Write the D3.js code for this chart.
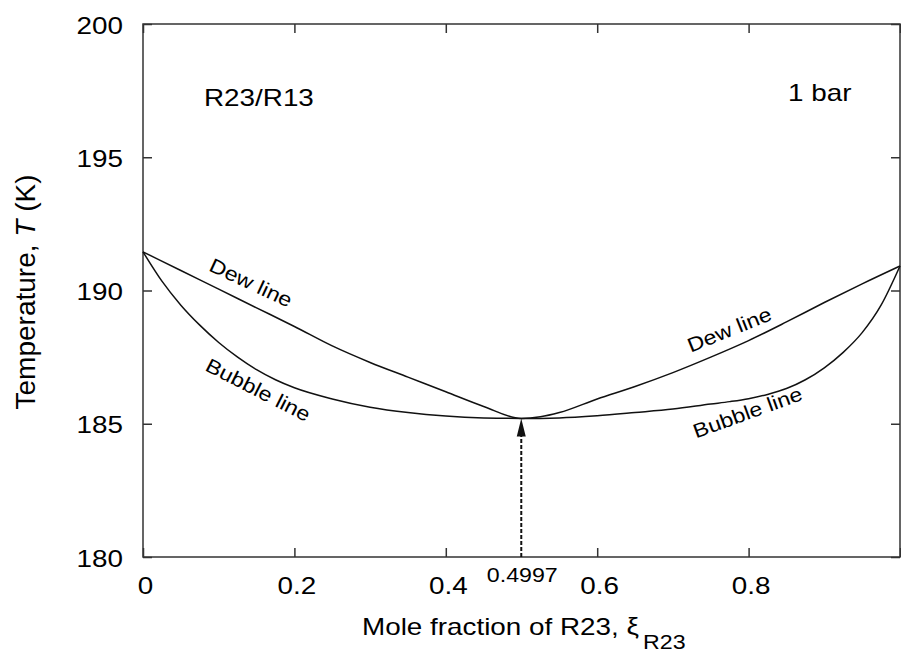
<!DOCTYPE html>
<html>
<head>
<meta charset="utf-8">
<script src="https://cdn.jsdelivr.net/npm/d3@7"></script>
<style>
  body { margin: 0; background: #fff; }
  svg { display: block; font-family: "Liberation Sans", Arial, sans-serif; }
</style>
</head>
<body>
<svg id="chart" width="901" height="653"></svg>
<script>
// mole fraction of R23 and temperature (K)
const xDew = [0, 0.05, 0.1, 0.15, 0.2, 0.25, 0.3, 0.35, 0.4, 0.45, 0.4997,
  0.525, 0.55, 0.6, 0.65, 0.7, 0.75, 0.8, 0.85, 0.9, 0.95, 1];
const tDew = [191.45, 190.75, 190.05, 189.35, 188.65, 187.92, 187.3, 186.75, 186.2, 185.65, 185.2,
  185.26, 185.42, 185.93, 186.4, 186.92, 187.5, 188.12, 188.82, 189.55, 190.25, 190.92];

const xBubble = [0, 0.025, 0.05, 0.075, 0.1, 0.125, 0.15, 0.175, 0.2, 0.25, 0.3, 0.35, 0.4, 0.45, 0.4997,
  0.55, 0.6, 0.65, 0.7, 0.75, 0.775, 0.8, 0.825, 0.85, 0.875, 0.9, 0.925, 0.95, 0.975, 1];
const tBubble = [191.45, 190.35, 189.45, 188.7, 188.05, 187.5, 187.03, 186.65, 186.35, 185.93, 185.62, 185.42, 185.29, 185.22, 185.2,
  185.22, 185.3, 185.42, 185.55, 185.74, 185.83, 185.94, 186.1, 186.32, 186.65, 187.1, 187.68, 188.42, 189.45, 190.92];

const azeotrope = { x: 0.4997, t: 185.2 };

const xTicks = [0, 0.2, 0.4, 0.6, 0.8, 1];
const xTickLabels = ["0", "0.2", "0.4", "0.6", "0.8", "1"];
const yTicks = [180, 185, 190, 195, 200];

const svg = d3.select("#chart");
const margin = { top: 24, right: 1, bottom: 96, left: 143 };
const width = 901 - margin.left - margin.right;
const height = 653 - margin.top - margin.bottom;
const SX = 1.16; // the source image is stretched sideways

const chart = svg.append("g")
  .attr("transform", `translate(${margin.left},${margin.top})`);

const x = d3.scaleLinear().domain([0, 1]).range([0, width]);
const y = d3.scaleLinear().domain([180, 200]).range([height, 0]);

// ================= AXES =================
const xAxis = chart.append("g")
  .attr("transform", `translate(0,${height})`)
  .call(d3.axisBottom(x).tickValues(xTicks).tickFormat((d, i) => xTickLabels[i]).tickSize(-9).tickSizeOuter(0));
const xAxisTop = chart.append("g")
  .call(d3.axisTop(x).tickValues(xTicks).tickFormat("").tickSize(-9).tickSizeOuter(0));
const yAxis = chart.append("g")
  .call(d3.axisLeft(y).tickValues(yTicks).tickSize(-9).tickSizeOuter(0));
const yAxisRight = chart.append("g")
  .attr("transform", `translate(${width},0)`)
  .call(d3.axisRight(y).tickValues(yTicks).tickFormat("").tickSize(-9).tickSizeOuter(0));

[xAxis, xAxisTop, yAxis, yAxisRight].forEach(a => {
  a.select(".domain").remove();
  a.selectAll("line").attr("stroke", "#333").attr("stroke-width", 1.5);
});

xAxis.selectAll("text")
  .attr("x", 0).attr("y", 0).attr("dy", null)
  .attr("transform", d => `translate(${d === 1 ? 9 : 2},37) scale(${SX},1)`)
  .attr("font-size", 24).attr("fill", d => d === 1 ? "#e8702a" : "#000")
  .attr("font-family", "Liberation Sans, Arial, sans-serif");

yAxis.selectAll("text")
  .attr("x", 0).attr("dy", null)
  .attr("transform", "translate(-20,9) scale(" + SX + ",1)")
  .attr("font-size", 24).attr("fill", "#000")
  .attr("font-family", "Liberation Sans, Arial, sans-serif");

// frame
chart.append("rect")
  .attr("width", width).attr("height", height)
  .attr("fill", "none").attr("stroke", "#333").attr("stroke-width", 1.5);

// ================= CURVES =================
const line = d3.line()
  .x(d => x(d[0]))
  .y(d => y(d[1]))
  .curve(d3.curveMonotoneX);

chart.append("path")
  .datum(d3.zip(xDew, tDew))
  .attr("d", line)
  .attr("fill", "none").attr("stroke", "#111").attr("stroke-width", 1.5);

chart.append("path")
  .datum(d3.zip(xBubble, tBubble))
  .attr("d", line)
  .attr("fill", "none").attr("stroke", "#111").attr("stroke-width", 1.5);

// azeotrope arrow
const ax = x(azeotrope.x), ay = y(azeotrope.t);
chart.append("line")
  .attr("x1", ax).attr("x2", ax)
  .attr("y1", height).attr("y2", ay + 14)
  .attr("stroke", "#111").attr("stroke-width", 2)
  .attr("stroke-dasharray", "4,2");
chart.append("path")
  .attr("d", `M${ax},${ay} L${ax - 4.5},${ay + 18} L${ax + 4.5},${ay + 18} Z`)
  .attr("fill", "#111");

// ================= TEXT =================
function label(txt, px, py, opts = {}) {
  const size = opts.size || 24;
  const rot = opts.rotate || 0;
  const sx = opts.sx === undefined ? SX : opts.sx;
  return chart.append("text")
    .attr("transform", `translate(${px},${py}) rotate(${rot}) scale(${sx},1)`)
    .attr("text-anchor", opts.anchor || "start")
    .attr("font-size", size)
    .attr("fill", "#000")
    .text(txt);
}

label("R23/R13", 204 - margin.left, 106 - margin.top);
label("1 bar", 788 - margin.left, 101 - margin.top);

label("Dew line", 248 - margin.left, 289 - margin.top, { size: 20, rotate: 25, anchor: "middle" });
label("Bubble line", 255 - margin.left, 396 - margin.top, { size: 20, rotate: 27, anchor: "middle" });
label("Dew line", 732 - margin.left, 336 - margin.top, { size: 20, rotate: -22, anchor: "middle" });
label("Bubble line", 750 - margin.left, 419 - margin.top, { size: 20, rotate: -20, anchor: "middle" });

label(String(azeotrope.x), ax + 1, 582 - margin.top, { size: 20, anchor: "middle" });

// x title with subscript
label("Mole fraction of R23, ξ", 362 - margin.left, 635 - margin.top);
label("R23", 643 - margin.left, 649 - margin.top, { size: 20 });

// y title
const yt = svg.append("text")
  .attr("transform", "translate(35,292) rotate(-90)")
  .attr("text-anchor", "middle")
  .attr("font-size", 28)
  .attr("fill", "#000");
yt.append("tspan").text("Temperature, ");
yt.append("tspan").attr("font-style", "italic").text("T");
yt.append("tspan").text(" (K)");
</script>
</body>
</html>
